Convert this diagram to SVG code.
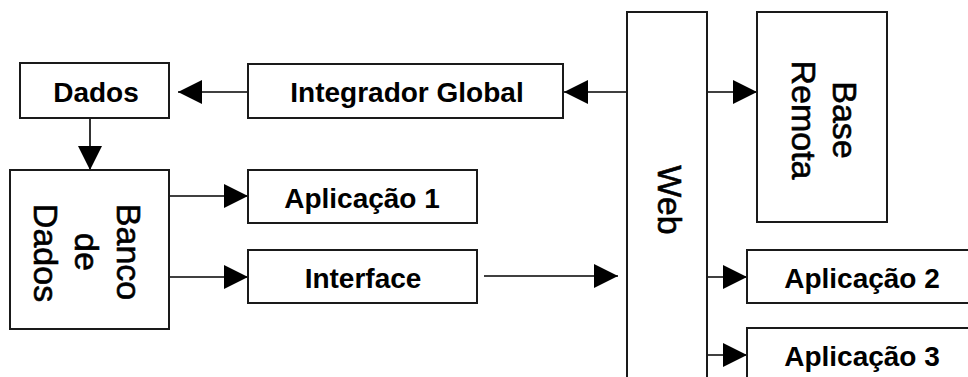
<svg xmlns="http://www.w3.org/2000/svg" width="968" height="377" viewBox="0 0 968 377">
  <style>
    .box { fill: #fff; stroke: #1a1a1a; stroke-width: 2; }
    .lbl { font-family: "Liberation Sans", Arial, sans-serif; font-weight: bold; font-size: 28px; fill: #000; text-anchor: middle; }
    .vlbl { font-family: "Liberation Sans", Arial, sans-serif; font-size: 34px; fill: #000; text-anchor: middle; stroke: #000; stroke-width: 0.6; }
    .wire { fill: none; stroke: #000; stroke-width: 1.6; }
  </style>
  <defs>
    <marker id="head" viewBox="0 0 24 24" refX="24" refY="12" markerWidth="24" markerHeight="24" markerUnits="userSpaceOnUse" orient="auto">
      <path d="M0,0 L24,12 L0,24 Z" fill="#000"/>
    </marker>
  </defs>
  <rect width="968" height="377" fill="#fff"/>

  <g id="connectors">
    <!-- Integrador Global -> Dados -->
    <line class="wire" x1="248" y1="92" x2="178" y2="92" marker-end="url(#head)"/>
    <!-- Dados -> Banco de Dados -->
    <line class="wire" x1="90" y1="118" x2="90" y2="170" marker-end="url(#head)"/>
    <!-- Banco de Dados -> Aplicação 1 -->
    <line class="wire" x1="169" y1="196" x2="248" y2="196" marker-end="url(#head)"/>
    <!-- Banco de Dados -> Interface -->
    <line class="wire" x1="169" y1="277" x2="248" y2="277" marker-end="url(#head)"/>
    <!-- Interface -> Web -->
    <line class="wire" x1="484" y1="276" x2="618" y2="276" marker-end="url(#head)"/>
    <!-- Web -> Integrador Global -->
    <line class="wire" x1="627" y1="92" x2="564" y2="92" marker-end="url(#head)"/>
    <!-- Web -> Base Remota -->
    <line class="wire" x1="707" y1="92" x2="757" y2="92" marker-end="url(#head)"/>
    <!-- Web -> Aplicação 2 / Aplicação 3 -->
    <line class="wire" x1="694" y1="277" x2="747" y2="277" marker-end="url(#head)"/>
    <line class="wire" x1="694" y1="355" x2="747" y2="355" marker-end="url(#head)"/>
  </g>

  <g id="dados">
    <rect class="box" x="20" y="63" width="149" height="55"/>
    <text class="lbl" x="96" y="102">Dados</text>
  </g>

  <g id="integrador">
    <rect class="box" x="248" y="64" width="315" height="54"/>
    <text class="lbl" x="407" y="102">Integrador Global</text>
  </g>

  <g id="banco">
    <rect class="box" x="10" y="170" width="159" height="159"/>
    <text class="vlbl" transform="translate(117,252) rotate(90)">Banco</text>
    <text class="vlbl" transform="translate(75,252) rotate(90)">de</text>
    <text class="vlbl" transform="translate(34,253) rotate(90)">Dados</text>
  </g>

  <g id="aplicacao1">
    <rect class="box" x="248" y="170" width="229" height="53"/>
    <text class="lbl" x="362" y="208">Aplicação 1</text>
  </g>

  <g id="interface">
    <rect class="box" x="248" y="250" width="229" height="53"/>
    <text class="lbl" x="363" y="288">Interface</text>
  </g>

  <g id="web">
    <rect class="box" x="627" y="12" width="80" height="400"/>
    <text class="vlbl" transform="translate(658,200) rotate(90)">Web</text>
  </g>

  <g id="base-remota">
    <rect class="box" x="757" y="12" width="130" height="210"/>
    <text class="vlbl" transform="translate(833,120) rotate(90)">Base</text>
    <text class="vlbl" transform="translate(792,120) rotate(90)">Remota</text>
  </g>

  <g id="aplicacao2">
    <rect class="box" x="747" y="250" width="230" height="53"/>
    <text class="lbl" x="862" y="288">Aplicação 2</text>
  </g>

  <g id="aplicacao3">
    <rect class="box" x="747" y="328" width="230" height="53"/>
    <text class="lbl" x="862" y="366">Aplicação 3</text>
  </g>
</svg>
